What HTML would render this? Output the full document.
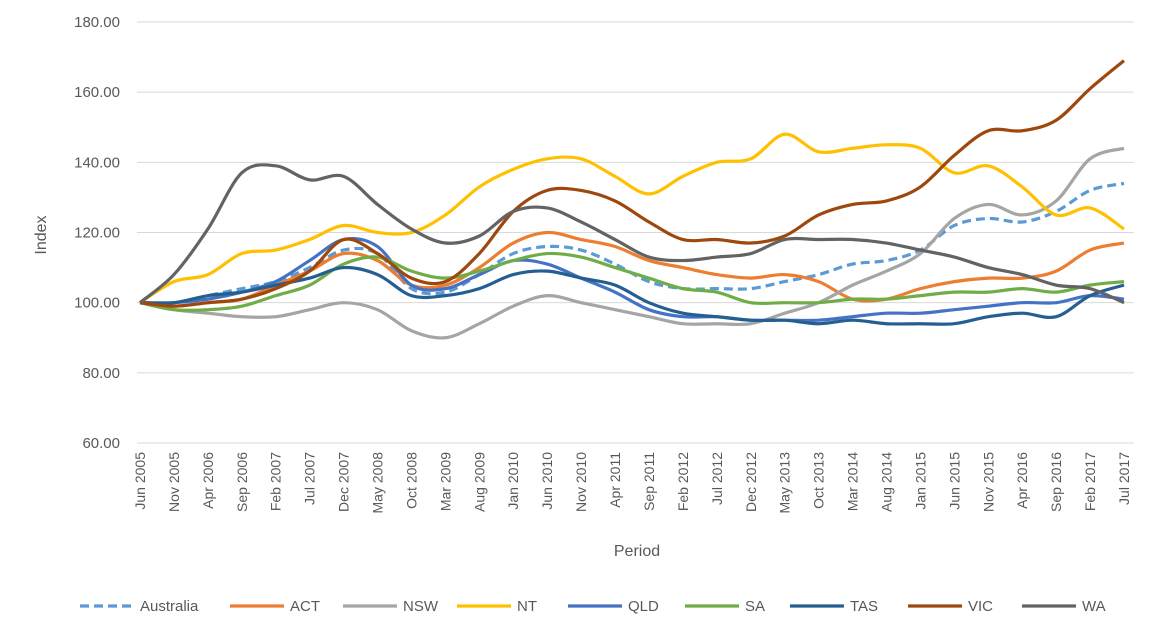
<!DOCTYPE html>
<html><head><meta charset="utf-8"><style>
body{margin:0;background:#fff;font-family:"Liberation Sans",sans-serif;}
svg text{font-family:"Liberation Sans",sans-serif;fill:#595959;}
</style></head><body>
<svg id="chart" width="1158" height="637" xmlns="http://www.w3.org/2000/svg">
<g id="grid"></g><g id="xlabels"></g><g id="ylabels"></g><g id="lines"></g><g id="legend"></g>
<text x="637" y="556" font-size="16" text-anchor="middle">Period</text>
<text x="46" y="235" font-size="16" text-anchor="middle" transform="rotate(-90 46 235)">Index</text>
</svg>
<script>
const months=[0,5,10,15,20,25,30,35,40,45,50,55,60,65,70,75,80,85,90,95,100,105,110,115,120,125,130,135,140,145];
const xTickLabels=["Jun 2005","Nov 2005","Apr 2006","Sep 2006","Feb 2007","Jul 2007","Dec 2007","May 2008","Oct 2008","Mar 2009","Aug 2009","Jan 2010","Jun 2010","Nov 2010","Apr 2011","Sep 2011","Feb 2012","Jul 2012","Dec 2012","May 2013","Oct 2013","Mar 2014","Aug 2014","Jan 2015","Jun 2015","Nov 2015","Apr 2016","Sep 2016","Feb 2017","Jul 2017"];
const yTicks=[60,80,100,120,140,160,180];
const seriesNames=["Australia","ACT","NSW","NT","QLD","SA","TAS","VIC","WA"];
const australia=[100,100,102,104,106,110,115,114,104,103,108,114,116,115,111,106,104,104,104,106,108,111,112,115,122,124,123,126,132,134];
const act=[100,99,100,101,105,109,114,112,105,105,110,117,120,118,116,112,110,108,107,108,106,101,101,104,106,107,107,109,115,117];
const nsw=[100,98,97,96,96,98,100,98,92,90,94,99,102,100,98,96,94,94,94,97,100,105,109,114,124,128,125,129,141,144];
const nt=[100,106,108,114,115,118,122,120,120,125,133,138,141,141,136,131,136,140,141,148,143,144,145,144,137,139,133,125,127,121];
const qld=[100,100,101,103,106,112,118,116,105,104,108,112,111,107,103,98,96,96,95,95,95,96,97,97,98,99,100,100,102,101];
const sa=[100,98,98,99,102,105,111,113,109,107,109,112,114,113,110,107,104,103,100,100,100,101,101,102,103,103,104,103,105,106];
const tas=[100,100,102,103,105,107,110,108,102,102,104,108,109,107,105,100,97,96,95,95,94,95,94,94,94,96,97,96,102,105];
const vic=[100,99,100,101,104,109,118,114,107,106,114,126,132,132,129,123,118,118,117,119,125,128,129,133,142,149,149,152,161,169];
const wa=[100,108,121,137,139,135,136,128,121,117,119,126,127,123,118,113,112,113,114,118,118,118,117,115,113,110,108,105,104,100];
const seriesData=[australia,act,nsw,nt,qld,sa,tas,vic,wa];
const colors=["#5B9BD5","#ED7D31","#A5A5A5","#FFC000","#4472C4","#70AD47","#255E91","#9E480E","#636363"];
const NS="http://www.w3.org/2000/svg";
const X0=140,X1=1124,Y0=443,Y1=22;
const xs=m=>X0+(X1-X0)*m/145;
const ys=v=>Y0-(Y0-Y1)*(v-60)/120;
function mk(t,a,p){const e=document.createElementNS(NS,t);for(const k in a)e.setAttribute(k,a[k]);p.appendChild(e);return e;}
const g=document.getElementById('grid'),yl=document.getElementById('ylabels'),xl=document.getElementById('xlabels'),lg=document.getElementById('lines'),le=document.getElementById('legend');
yTicks.forEach(v=>{
 const l=mk('line',{x1:137,x2:1134,y1:ys(v),y2:ys(v),stroke:'#d9d9d9','stroke-width':1},g);
 
 
 const t=mk('text',{x:120,y:ys(v)+5,'font-size':15,'text-anchor':'end'},yl);t.textContent=v.toFixed(2);
 
 
});
months.forEach((m,i)=>{
 const x=xs(m)+5,y=452;
 const t=mk('text',{x:x,y:y,'font-size':14,'text-anchor':'end',transform:`rotate(-90 ${x} ${y})`},xl);t.textContent=xTickLabels[i];
 
 
});
seriesData.forEach((d,s)=>{
 const pts=d.map((v,i)=>[xs(months[i]),ys(v)]);
 let p=`M${pts[0][0]},${pts[0][1]}`;
 for(let i=0;i<pts.length-1;i++){const a=pts[i-1]||pts[i],b=pts[i],c=pts[i+1],e=pts[i+2]||c;
  p+=` C${b[0]+(c[0]-a[0])/6},${b[1]+(c[1]-a[1])/6} ${c[0]-(e[0]-b[0])/6},${c[1]-(e[1]-b[1])/6} ${c[0]},${c[1]}`;}
 const a={d:p,fill:'none',stroke:colors[s],'stroke-width':3.2,'stroke-linejoin':'round'};
 if(s===0)a['stroke-dasharray']='9,5';
 const path=mk('path',a,lg);
 
 
});
const lx=[80,230,343,457,568,685,790,908,1022];
seriesNames.forEach((n,s)=>{
 const gr=mk('g',{},le);
 
 
 const a={x1:lx[s],x2:lx[s]+54,y1:606,y2:606,stroke:colors[s],'stroke-width':3.2};
 if(s===0)a['stroke-dasharray']='9,5';
 mk('line',a,gr);
 const t=mk('text',{x:lx[s]+60,y:611,'font-size':15},gr);t.textContent=n;
});
</script>
</body></html>
